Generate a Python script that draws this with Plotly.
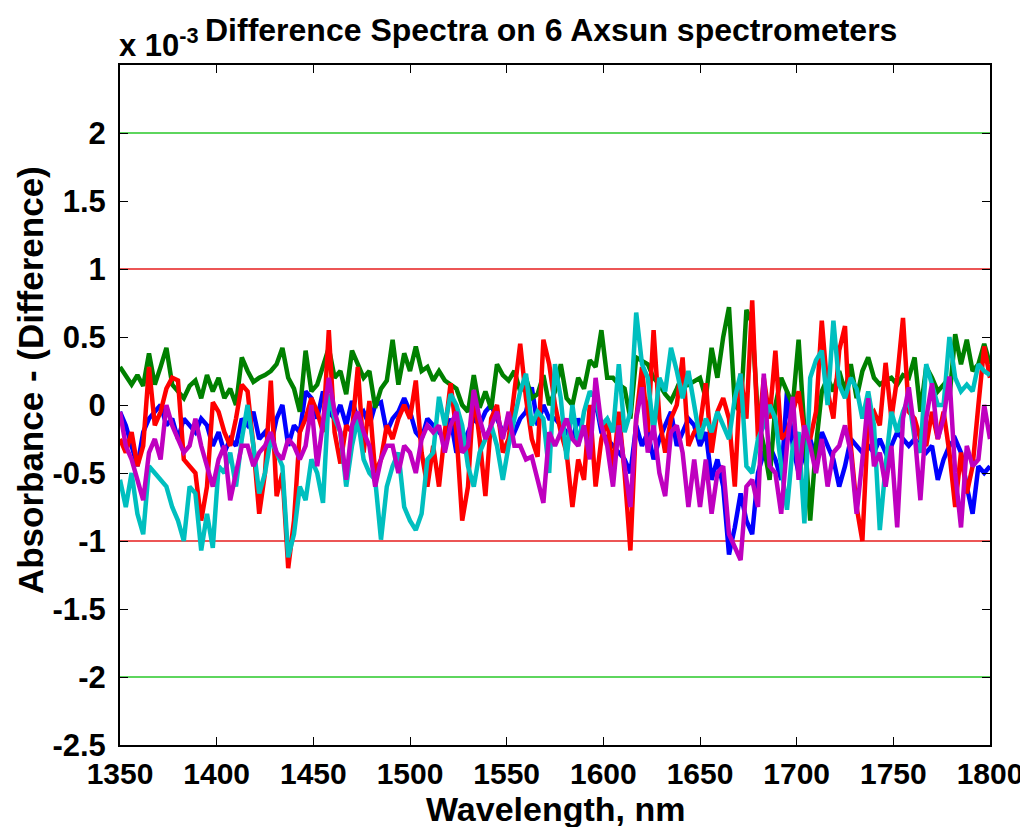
import plotly.graph_objects as go

# wavelength grid (nm), 3 nm spacing
wavelength = list(range(1350, 1801, 3))

# difference spectra, absorbance x 1e-3
blue = [-0.05,-0.15,-0.3,-0.45,-0.2,-0.1,-0.05,0.0,-0.15,-0.1,-0.25,-0.1,-0.15,-0.2,-0.1,-0.15,-0.3,-0.2,-0.35,-0.25,-0.3,-0.1,-0.15,-0.05,-0.25,
        -0.2,-0.3,-0.1,0.0,-0.3,-0.15,-0.2,0.1,0.05,-0.1,0.1,-0.05,-0.1,0.0,-0.15,0.03,-0.1,-0.05,-0.15,0.0,0.02,-0.2,-0.1,-0.05,0.05,
        -0.05,-0.2,-0.25,-0.1,-0.15,-0.2,-0.25,-0.1,-0.35,-0.3,-0.2,-0.1,-0.15,-0.05,0.0,-0.1,-0.2,-0.15,-0.2,-0.1,-0.05,0.13,-0.15,0.0,-0.1,
        -0.1,-0.15,-0.2,-0.25,-0.1,-0.2,-0.15,0.03,-0.2,-0.25,-0.3,-0.35,-0.4,-0.5,-0.15,-0.3,-0.2,-0.4,-0.25,-0.15,-0.05,-0.3,-0.2,-0.1,-0.15,
        -0.3,-0.2,-0.55,-0.4,-0.6,-1.1,-0.9,-0.65,-0.85,-0.95,-0.5,-0.35,-0.3,-0.4,-0.55,0.1,-0.3,-0.5,-0.35,-0.25,-0.4,-0.2,-0.3,-0.4,-0.6,
        -0.45,-0.25,-0.3,-0.35,-0.3,-0.35,-0.25,-0.35,-0.3,-0.2,-0.25,-0.3,-0.25,-0.3,-0.35,-0.3,-0.55,-0.4,-0.3,-0.25,-0.35,-0.6,-0.8,-0.45,-0.5,-0.45]

green = [0.28,0.22,0.15,0.22,0.14,0.38,0.15,0.28,0.42,0.15,0.1,0.05,0.14,0.18,0.05,0.22,0.1,0.2,0.05,0.12,0.0,0.35,0.25,0.17,0.2,
         0.22,0.25,0.3,0.42,0.2,0.12,-0.05,0.4,0.1,0.15,0.3,0.42,0.2,0.25,0.08,0.4,0.3,0.2,0.25,-0.02,0.12,0.18,0.48,0.15,0.38,
         0.25,0.43,0.25,0.28,0.18,0.25,0.18,0.15,0.12,0.0,-0.05,0.22,-0.02,0.1,-0.03,0.3,0.22,0.18,0.25,0.1,0.2,0.05,0.08,0.22,0.0,
         0.1,0.3,0.05,0.0,0.2,0.12,0.33,0.28,0.55,0.2,0.2,0.15,0.12,-0.1,0.35,0.32,0.3,0.2,0.15,0.08,0.03,0.12,0.22,0.15,0.18,
         0.2,0.05,0.42,0.2,0.5,0.72,0.0,-0.05,0.7,0.6,-0.1,-0.3,-0.55,0.0,0.2,0.1,0.0,0.48,-0.2,-0.85,-0.3,0.1,0.2,0.1,0.25,
         0.1,0.3,0.05,0.25,0.35,0.2,0.15,0.18,0.2,0.15,0.22,0.2,0.35,-0.05,0.28,0.2,0.1,0.15,0.05,0.52,0.3,0.48,0.25,0.3,0.45,0.3]

red = [-0.25,-0.35,-0.2,-0.45,-0.3,0.28,-0.15,-0.05,0.12,0.2,0.18,-0.4,-0.45,-0.5,-0.85,-0.6,0.02,-0.05,-0.2,-0.3,-0.1,0.15,0.1,-0.3,-0.8,
       -0.5,0.18,-0.67,-0.5,-1.2,-0.85,-0.2,-0.1,0.05,-0.05,-0.2,0.55,-0.2,-0.43,-0.15,-0.2,0.28,-0.35,0.03,-0.5,-0.4,-0.15,-0.25,-0.1,0.0,
       -0.1,0.18,-0.35,-0.6,-0.3,-0.6,-0.2,0.16,-0.2,-0.85,-0.6,0.1,-0.25,-0.67,-0.1,0.0,-0.35,-0.25,0.1,0.45,0.05,-0.25,-0.38,0.48,0.3,
       0.0,-0.2,-0.35,-0.75,-0.4,-0.55,0.0,-0.6,-0.25,-0.1,-0.5,-0.05,-0.5,-1.07,-0.1,0.28,-0.2,0.55,-0.1,-0.35,-0.1,0.0,0.35,-0.3,-0.2,
       -0.15,0.16,-0.35,-0.05,0.05,-0.1,-0.6,0.23,-0.1,0.77,-0.25,0.2,-0.1,0.4,-0.25,-0.2,-0.05,0.1,-0.2,-0.25,-0.05,0.62,0.1,-0.1,0.4,
       0.58,-0.3,-0.75,-1.0,-0.1,-0.05,-0.15,0.31,-0.1,0.2,0.64,-0.05,-0.1,-0.25,-0.3,-0.05,-0.25,-0.05,-0.35,-0.75,-0.35,-0.65,-0.45,0.0,0.43,0.2]

cyan = [-0.55,-0.75,-0.5,-0.8,-0.95,-0.45,-0.5,-0.55,-0.6,-0.75,-0.85,-1.0,-0.6,-0.65,-1.07,-0.8,-1.05,-0.45,-0.5,-0.35,-0.6,-0.25,0.0,-0.3,-0.65,
        -0.5,-0.25,-0.35,-0.45,-1.12,-0.95,-0.6,-0.7,-0.4,-0.5,-0.72,0.08,-0.1,-0.2,-0.6,-0.3,-0.1,-0.4,-0.5,-0.55,-0.99,-0.6,-0.45,-0.35,-0.75,
        -0.85,-0.92,-0.8,-0.4,-0.35,0.06,-0.15,0.08,0.0,-0.15,-0.45,-0.6,-0.35,-0.25,-0.15,-0.3,-0.55,-0.3,-0.1,0.1,0.23,-0.15,-0.05,-0.1,-0.5,
        0.3,0.05,-0.4,0.0,-0.3,-0.05,0.1,0.05,-0.15,-0.1,-0.2,0.3,-0.2,-0.05,0.68,0.3,0.2,-0.2,0.2,0.1,0.42,0.25,0.05,0.25,0.0,
        -0.25,-0.1,-0.2,-0.05,-0.15,-0.25,0.05,0.23,-0.45,-0.5,-0.25,-0.15,0.0,-0.1,-0.45,-0.77,-0.3,-0.2,-0.87,0.2,0.33,0.4,0.0,0.62,0.15,
        0.05,0.2,0.12,-0.1,0.1,-0.15,-0.92,-0.45,-0.05,-0.2,-0.05,0.05,-0.25,-0.35,0.3,0.15,0.0,0.0,0.5,0.2,0.1,0.15,0.1,0.3,0.25,0.22]

magenta = [-0.05,-0.3,-0.4,-0.55,-0.7,-0.35,-0.25,-0.4,0.0,-0.15,-0.25,-0.35,-0.3,-0.1,-0.3,-0.45,-0.6,-0.4,-0.3,-0.7,-0.5,-0.3,-0.3,-0.45,-0.35,
           -0.3,-0.2,-0.35,-0.4,-0.25,-0.3,-0.4,-0.3,0.0,-0.45,-0.15,0.2,-0.05,-0.2,-0.55,-0.15,-0.05,-0.2,-0.3,-0.6,-0.4,-0.3,-0.3,-0.5,-0.3,
           -0.35,-0.5,-0.25,-0.15,-0.2,-0.15,-0.35,-0.15,-0.05,-0.35,-0.3,0.11,-0.1,-0.25,-0.15,-0.05,-0.25,-0.05,-0.3,-0.3,-0.4,-0.38,-0.55,-0.72,-0.2,
           -0.3,-0.2,-0.1,-0.25,-0.3,-0.15,-0.4,0.2,-0.15,-0.3,-0.6,-0.15,-0.45,-0.75,-0.1,0.13,-0.35,-0.15,-0.5,-0.67,-0.2,-0.15,-0.35,-0.75,-0.4,
           -0.75,-0.4,-0.8,-0.5,-0.45,-0.95,-1.04,-1.14,-0.6,-0.55,-0.75,0.23,-0.45,-0.5,-0.8,-0.3,0.06,-0.55,-0.15,-0.3,-0.5,-0.25,-0.6,-0.35,-0.3,
           -0.15,-0.35,-0.8,-0.4,0.05,-0.45,-0.35,-0.6,-0.3,-0.9,-0.1,0.13,-0.2,-0.7,-0.1,0.16,-0.25,-0.1,0.21,-0.5,-0.9,-0.3,-0.45,-0.4,0.0,-0.25]

series = [
    ("Spectrometer 2", blue, "rgb(0,0,255)"),
    ("Spectrometer 3", green, "rgb(0,128,0)"),
    ("Spectrometer 4", red, "rgb(255,0,0)"),
    ("Spectrometer 5", cyan, "rgb(0,191,191)"),
    ("Spectrometer 6", magenta, "rgb(191,0,191)"),
]

# limit lines (x 1e-3)
limit_levels = [2, 1, -1, -2]
limit_colors = ["rgb(40,200,40)", "rgb(230,30,30)", "rgb(230,30,30)", "rgb(40,200,40)"]

x_ticks = [1350, 1400, 1450, 1500, 1550, 1600, 1650, 1700, 1750, 1800]
y_ticks = [-2.5, -2, -1.5, -1, -0.5, 0, 0.5, 1, 1.5, 2]
y_tick_text = ["-2.5", "-2", "-1.5", "-1", "-0.5", "0", "0.5", "1", "1.5", "2"]

FONT = "Liberation Sans, Arial, Helvetica, sans-serif"

fig = go.Figure()
for name, vals, col in series:
    fig.add_trace(go.Scatter(x=wavelength, y=vals, mode="lines", name=name,
                             line=dict(color=col, width=4.5), showlegend=False))

for lv, lc in zip(limit_levels, limit_colors):
    fig.add_shape(type="line", xref="paper", x0=0, x1=1, yref="y", y0=lv, y1=lv,
                  line=dict(color=lc, width=1.3), layer="below")

axis_common = dict(showline=True, linecolor="black", linewidth=2, mirror="ticks",
                   ticks="inside", ticklen=8, tickwidth=1, tickcolor="black",
                   showgrid=False, zeroline=False, automargin=False)

fig.update_xaxes(range=[1350, 1800], tickvals=x_ticks, ticklabelstandoff=1,
                 tickfont=dict(family=FONT, size=30, color="black", weight="bold"), **axis_common)
fig.update_yaxes(range=[-2.5, 2.5], tickvals=y_ticks, ticktext=y_tick_text, ticklabelstandoff=6,
                 tickfont=dict(family=FONT, size=31, color="black", weight="bold"), **axis_common)

fig.add_annotation(text="x 10<sup>-3</sup>", xref="paper", yref="paper", x=-0.003, y=1.033,
                   xanchor="left", yanchor="middle", showarrow=False,
                   font=dict(family=FONT, size=31, color="black", weight="bold"))
fig.add_annotation(text="Difference Spectra on 6 Axsun spectrometers", xref="paper", yref="paper",
                   x=0.495, y=1.052, xanchor="center", yanchor="middle", showarrow=False,
                   font=dict(family=FONT, size=32, color="black", weight="bold"))
fig.add_annotation(text="Wavelength, nm", xref="paper", yref="paper", x=0.5, y=-0.094,
                   xanchor="center", yanchor="middle", showarrow=False,
                   font=dict(family=FONT, size=34, color="black", weight="bold"))
fig.add_annotation(text="Absorbance - (Difference)", xref="paper", yref="paper", x=-0.102, y=0.537,
                   xanchor="center", yanchor="middle", textangle=-90, showarrow=False,
                   font=dict(family=FONT, size=35, color="black", weight="bold"))

# page has an 8 px body margin, so the figure is 8 px smaller on each axis
fig.update_layout(width=1020, height=819, margin=dict(l=112, r=38, t=57, b=82, autoexpand=False),
                  paper_bgcolor="white", plot_bgcolor="white", showlegend=False)

fig.write_html("out.html")
